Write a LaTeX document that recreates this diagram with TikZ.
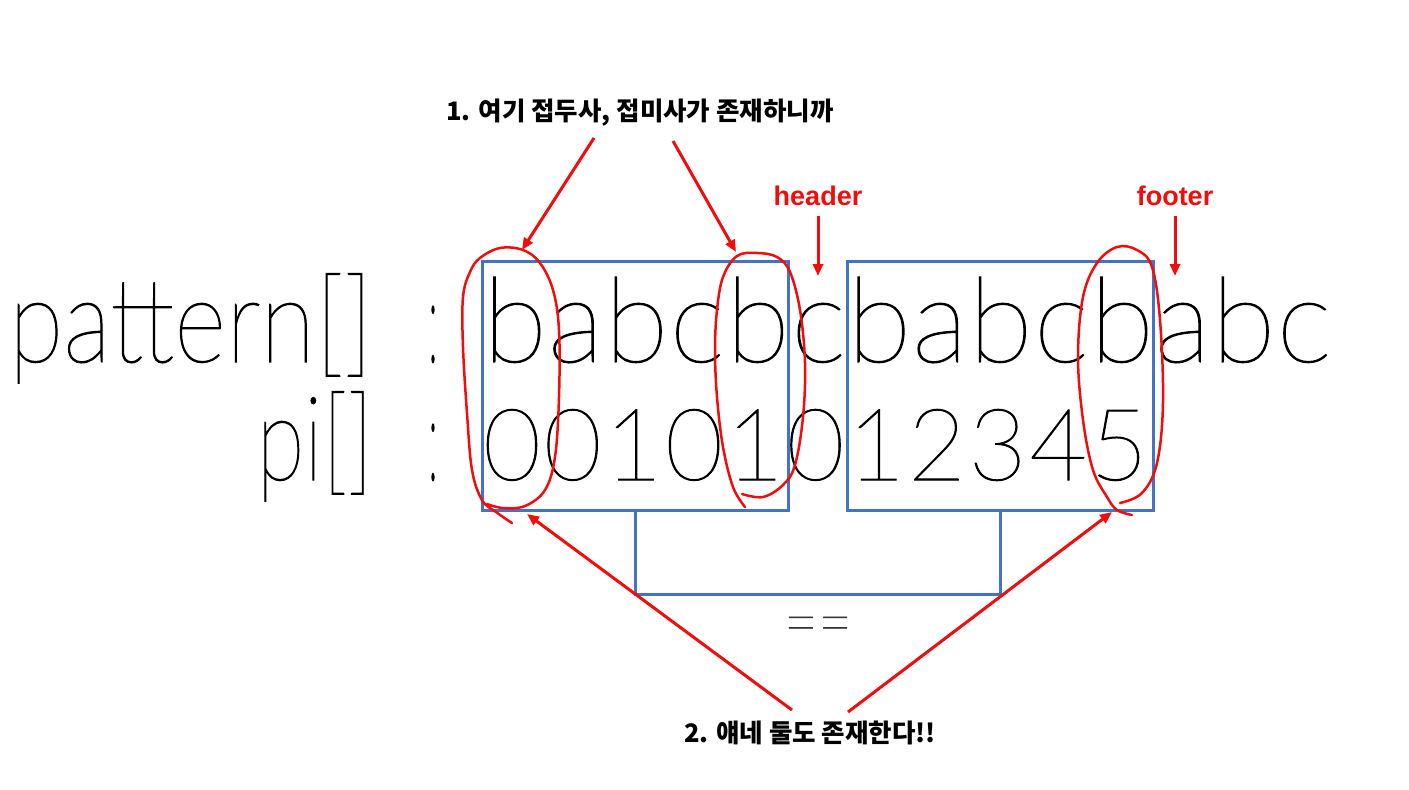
\documentclass[tikz,border=0pt]{standalone}
\usepackage{fontspec}
\usepackage{graphicx}
\usetikzlibrary{arrows.meta}
\IfFontExistsTF{Lato Hairline}{\newfontfamily\thinfont{Lato Hairline}[FakeBold=1]}{%
  \IfFontExistsTF{Lato Thin}{\newfontfamily\thinfont{Lato Thin}}{\newfontfamily\thinfont{Liberation Sans}}}
\newfontfamily\krfont{Noto Sans CJK KR}
\newfontfamily\hdfont{Liberation Sans}
\definecolor{boxblue}{HTML}{4472C4}
\definecolor{markred}{HTML}{F20D0D}

\begin{document}
\begin{tikzpicture}[x=1pt,y=-1pt,
                    CHR/.style={inner sep=0, anchor=base, font=\thinfont\fontsize{118}{118}\selectfont},
                    DIG/.style={inner sep=0, anchor=base, font=\thinfont\fontsize{100}{100}\selectfont},
                    LBL/.style={inner sep=0, anchor=base east, font=\thinfont\fontsize{118}{118}\selectfont},
                    BOX/.style={draw=boxblue, line width=3pt, inner sep=0, minimum width=306pt, minimum height=249pt},
                    LINK/.style={draw=boxblue, line width=3pt},
                    LOOP/.style={draw=markred, line width=2.5pt, line cap=round, line join=round},
                    ARR/.style={draw=markred, line width=3pt, -{Triangle[length=12pt,width=10pt]}},
                    NOTE/.style={inner sep=0, font=\krfont\bfseries\fontsize{25.5}{25.5}\selectfont},
                    TAG/.style={inner sep=0, text=markred, font=\hdfont\bfseries\fontsize{27}{27}\selectfont},
                ]
                \fill[white] (0,0) rectangle (1409,790);
                \useasboundingbox (0,0) rectangle (1409,790);

                % row labels
                \node[LBL] (lblPat) at (373,362) {\resizebox{364pt}{\height}{pattern[]}};
                \node[LBL] (lblPi)  at (373,480) {\resizebox{116pt}{\height}{pi[]}};
                \node[CHR] (colPat) at (433,362) {\scalebox{0.35}[1]{:}};
                \node[CHR] (colPi)  at (433,480) {\scalebox{0.35}[1]{:}};

                % windows
                \node[BOX] (win1) at (635,385.5) {};
                \node[BOX] (win2) at (1000,385.5) {};
                \draw[LINK] (win1.south) -- ++(0,83) -| (win2.south);
                \node[inner sep=0, text=black!80, font=\thinfont\fontsize{72}{72}\selectfont] (eq) at (818,632) {\scalebox{0.82}[1]{==}};

                % the two rows
                \foreach \ch [count=\i from 0] in {b,a,b,c,b,c,b,a,b,c,b,a,b,c}
                    \node[CHR] (pat\i) at (515+60.7*\i,362) {\ch};
                \foreach \d [count=\i from 0] in {0,0,1,0,1,0,1,2,3,4,5}
                    \node[DIG] (pi\i) at (512+60.7*\i,480) {\d};

                % hand drawn marks
                \draw[LOOP] plot[smooth, tension=0.6] coordinates {(512,523) (496,512) (482,500) (472,470) (467,413) (463,347) (463,297) (470,272) (480,258) (500,248) (523,250) (540,263) (553,290) (559,330) (559,397) (555,457) (545,490) (525,506) (503,508) (487,504)};
                \draw[LOOP] plot[smooth, tension=0.6] coordinates {(745,507) (733,487) (723,447) (717,397) (715,350) (717,310) (723,277) (737,256) (757,253) (777,257) (790,272) (800,310) (805,363) (803,417) (795,465) (783,485) (763,497) (742,494)};
                \draw[LOOP] plot[smooth, tension=0.6] coordinates {(1132,515) (1117,510) (1107,497) (1093,470) (1083,420) (1078,357) (1083,297) (1097,263) (1117,247) (1137,250) (1152,267) (1160,320) (1163,403) (1157,463) (1142,493) (1120,503)};

                % notes
                \node[NOTE] (note1) at (640,113) {1. 여기 접두사, 접미사가 존재하니까};
                \node[NOTE] (note2) at (810,733) {2. 얘네 둘도 존재한다!!};
                \node[TAG] (hdr) at (818,196) {header};
                \node[TAG] (ftr) at (1175,196) {footer};

                \coordinate (tipPre) at (522,250);
                \coordinate (tipSuf) at (736,252);
                \coordinate (tipHdr) at (818,276);
                \coordinate (tipFtr) at (1175,276);
                \coordinate (tipLow1) at (527,514);
                \coordinate (tipLow2) at (1112,512);

                \draw[ARR] ([xshift=-46pt,yshift=-25pt]note1.center) -- (tipPre);
                \draw[ARR] ([xshift=33pt,yshift=-28pt]note1.center) -- (tipSuf);
                \draw[ARR] ([yshift=-20pt]hdr.center) -- (tipHdr);
                \draw[ARR] ([yshift=-20pt]ftr.center) -- (tipFtr);
                \draw[ARR] ([xshift=-18pt,yshift=23pt]note2.center) -- (tipLow1);
                \draw[ARR] ([xshift=38pt,yshift=21pt]note2.center) -- (tipLow2);

            \end{tikzpicture}
\end{document}
